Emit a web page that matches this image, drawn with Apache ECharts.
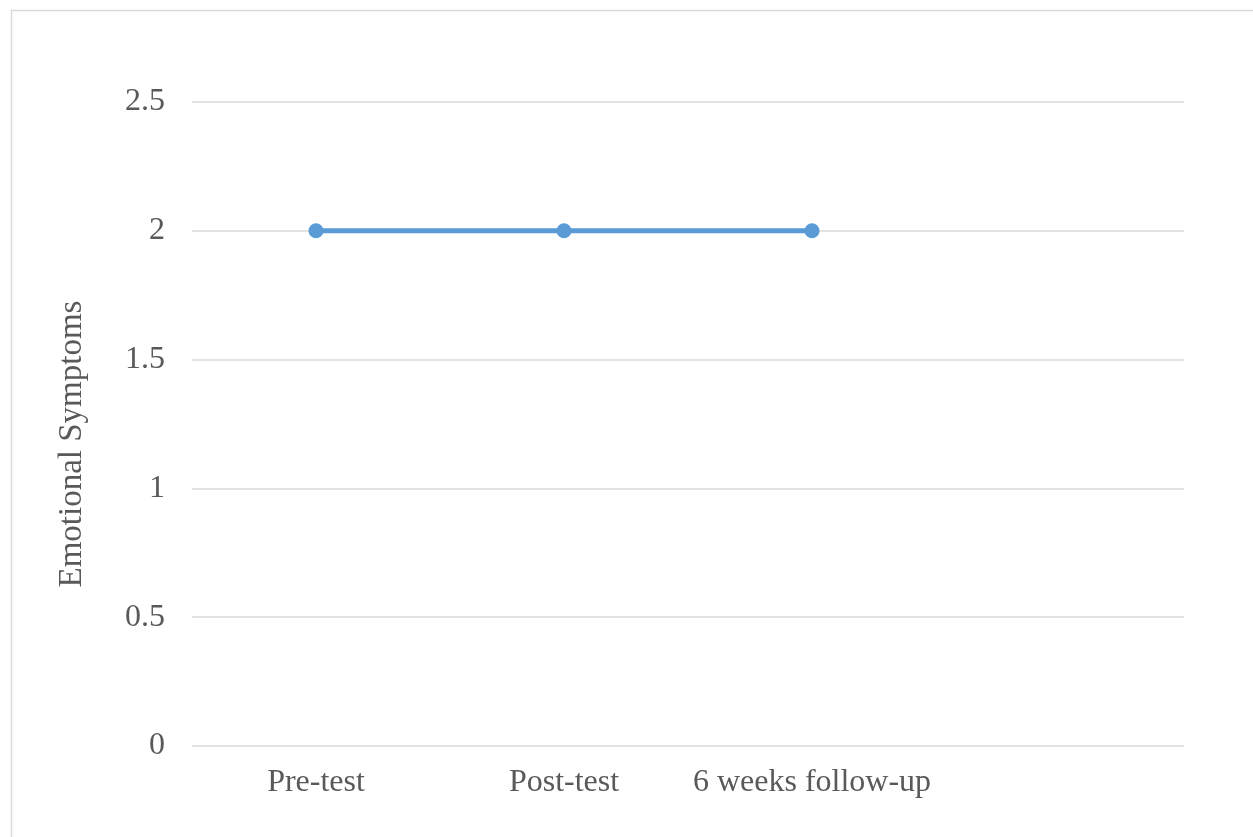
<!DOCTYPE html>
<html>
<head>
<meta charset="utf-8">
<script src="https://cdn.jsdelivr.net/npm/echarts@6/dist/echarts.min.js"></script>
<style>
  html, body { margin: 0; padding: 0; background: #ffffff; }
  #chart { width: 1253px; height: 837px; }
</style>
</head>
<body>
<div id="chart"></div>
<script>
// Time points on the x axis (the trailing blank slot keeps the plot's spacing)
const categories = ['Pre-test', 'Post-test', '6 weeks follow-up', ''];
// Mean emotional symptom score at each time point
const scores = [2, 2, 2];
// Value axis range
const yMin = 0;
const yMax = 2.5;
const yStep = 0.5;

const textColor = '#595959';
const gridColor = '#D9D9D9';
const fontFamily = '"Liberation Serif", "Times New Roman", serif';

const chart = echarts.init(document.getElementById('chart'));
chart.setOption({
  animation: false,
  backgroundColor: '#ffffff',
  graphic: [{
    type: 'rect',
    shape: { x: 11.5, y: 10.5, width: 1400, height: 1000 },
    style: { fill: 'none', stroke: gridColor, lineWidth: 1.5 },
    silent: true
  }],
  grid: { left: 192, right: 69, top: 102, bottom: 91 },
  xAxis: {
    type: 'category',
    data: categories,
    boundaryGap: true,
    axisLine: { show: false },
    axisTick: { show: false },
    axisLabel: {
      color: textColor,
      fontFamily: fontFamily,
      fontSize: 32,
      margin: 21,
      interval: 0
    },
    splitLine: { show: false }
  },
  yAxis: {
    type: 'value',
    min: yMin,
    max: yMax,
    interval: yStep,
    name: 'Emotional Symptoms',
    nameLocation: 'middle',
    nameGap: 103,
    nameRotate: 90,
    nameTextStyle: {
      color: textColor,
      fontFamily: fontFamily,
      fontSize: 33,
      padding: [0, 40, 0, 0]
    },
    axisLine: { show: false },
    axisTick: { show: false },
    axisLabel: {
      color: textColor,
      fontFamily: fontFamily,
      fontSize: 32,
      margin: 27
    },
    splitLine: { lineStyle: { color: gridColor, width: 1.5 } }
  },
  series: [{
    type: 'line',
    data: scores,
    symbol: 'circle',
    symbolSize: 15,
    lineStyle: { color: '#5B9BD5', width: 5 },
    itemStyle: { color: '#5B9BD5' }
  }]
});
</script>
</body>
</html>
